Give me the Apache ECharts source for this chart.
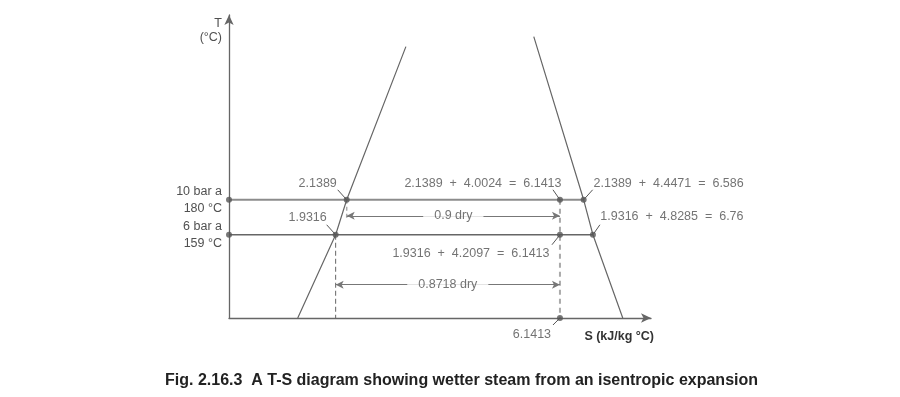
<!DOCTYPE html>
<html>
<head>
<meta charset="utf-8">
<script src="https://cdn.jsdelivr.net/npm/echarts@6/dist/echarts.min.js"></script>
<style>
html, body { margin: 0; background: #fff; }
#main { width: 900px; height: 397px; }
</style>
</head>
<body>
<div id="main"></div>
<script>
// axis extents (schematic T-S plot)
const sMin = -0.07, sMax = 7.85
const tMin = 109, tMax = 291

// saturation states: index 0 = 6 bar a, index 1 = 10 bar a
const pressures = ['6 bar a', '10 bar a']
const satTemps = [159, 180]
const sf = [1.9316, 2.1389]
const sfgFull = [4.8285, 4.4471]
const sg = [6.76, 6.586]
const sfgWet = [4.2097, 4.0024]
const sWet = 6.1413
const dryness = ['0.8718', '0.9']

// saturation dome
const domeLeftS = [1.22, 1.9316, 2.1389, 3.25]
const domeLeftT = [109, 159, 180, 272]
const domeRightS = [5.65, 6.586, 6.76, 7.32]
const domeRightT = [278, 180, 159, 109]

// temperature of the dryness arrows
const arrowT = [129, 170.4]

const textColor = '#505050'
const font = 'Liberation Sans, Arial, sans-serif'

function zip(a, b) {
    return a.map(function (v, i) { return [v, b[i]] })
}
function fmt(i) {
    return sf[i] + '  +  '
}

// labelled points
const pts = [
    { value: [sf[1], satTemps[1]], text: String(sf[1]) },
    { value: [sf[0], satTemps[0]], text: String(sf[0]) },
    { value: [sWet, satTemps[1]], text: fmt(1) + sfgWet[1] + '  =  ' + sWet },
    { value: [sg[1], satTemps[1]], text: fmt(1) + sfgFull[1] + '  =  ' + sg[1] },
    { value: [sg[0], satTemps[0]], text: fmt(0) + sfgFull[0] + '  =  ' + sg[0] },
    { value: [sWet, satTemps[0]], text: fmt(0) + sfgWet[0] + '  =  ' + sWet },
    { value: [sWet, tMin], text: String(sWet) }
]
// label offset and leader start, px from the point
const labelOffsets = [[-29, -16], [-28, -17], [-77, -16], [85, -16], [79, -18], [-89, 19], [-28, 17]]
const leaderStart = [[-9, -10], [-9, -10], [-7, -10], [9, -10], [7, -10], [-8, 10], [-7, 7]]

var option = {
    animation: false,
    title: {
        text: 'Fig. 2.16.3  A T-S diagram showing wetter steam from an isentropic expansion',
        left: 165,
        top: 373,
        padding: 0,
        textStyle: { fontFamily: font, fontSize: 16, fontWeight: 'bold', color: '#222' }
    },
    grid: { left: 229, right: 249, top: 15, bottom: 79 },
    xAxis: {
        type: 'value',
        min: sMin,
        max: sMax,
        name: 'S (kJ/kg °C)',
        nameLocation: 'end',
        nameGap: 3,
        nameTextStyle: {
            align: 'right', verticalAlign: 'top', padding: [12, 0, 0, 0],
            fontFamily: font, fontSize: 12.5, fontWeight: 'bold', color: '#333'
        },
        axisLine: {
            onZero: false,
            symbol: ['none', 'arrow'],
            symbolSize: [7, 10],
            lineStyle: { color: '#666', width: 1.3 }
        },
        axisTick: { show: false },
        axisLabel: { show: false },
        splitLine: { show: false }
    },
    yAxis: {
        type: 'value',
        min: tMin,
        max: tMax,
        name: 'T\n(°C)',
        nameLocation: 'end',
        nameGap: -1.5,
        nameTextStyle: {
            align: 'right', verticalAlign: 'top', padding: [0, 7, 0, 0], lineHeight: 14,
            fontFamily: font, fontSize: 12.5, color: textColor
        },
        axisLine: {
            onZero: false,
            symbol: ['none', 'arrow'],
            symbolSize: [7, 10],
            lineStyle: { color: '#666', width: 1.3 }
        },
        axisTick: { show: false },
        splitLine: { show: false },
        axisLabel: {
            customValues: satTemps,
            margin: 7,
            fontFamily: font,
            fontSize: 12.5,
            lineHeight: 17,
            color: textColor,
            formatter: function (v) {
                var i = satTemps.indexOf(v)
                return pressures[i] + '\n' + v + ' °C'
            }
        }
    },
    series: [
        {
            type: 'line', data: zip(domeLeftS, domeLeftT), showSymbol: false, z: 2,
            lineStyle: { color: '#666', width: 1.2 }
        },
        {
            type: 'line', data: zip(domeRightS, domeRightT), showSymbol: false, z: 2,
            lineStyle: { color: '#666', width: 1.2 }
        },
        // pressure lines
        {
            type: 'line', data: [[sMin, satTemps[1]], [sg[1], satTemps[1]]], showSymbol: false, z: 2,
            lineStyle: { color: '#8c8c8c', width: 2 }
        },
        {
            type: 'line', data: [[sMin, satTemps[0]], [sg[0], satTemps[0]]], showSymbol: false, z: 2,
            lineStyle: { color: '#666', width: 1.5 }
        },
        // dashed verticals
        {
            type: 'line', data: [[sf[1], satTemps[1]], [sf[1], arrowT[1] - 2]], showSymbol: false, z: 1,
            lineStyle: { color: '#aaa', width: 1.5, type: [4, 3] }
        },
        {
            type: 'line', data: [[sf[0], satTemps[0]], [sf[0], tMin]], showSymbol: false, z: 1,
            lineStyle: { color: '#666', width: 1, type: [5, 3] }
        },
        {
            type: 'line', data: [[sWet, satTemps[1]], [sWet, tMin]], showSymbol: false, z: 1,
            lineStyle: { color: '#aaa', width: 2, type: [5, 4] }
        },
        // dryness arrows
        {
            type: 'line', data: [], z: 3,
            markLine: {
                silent: true,
                symbol: ['arrow', 'arrow'],
                symbolSize: [6, 8],
                label: { show: false },
                lineStyle: { color: '#777', width: 1, type: 'solid' },
                data: [0, 1].map(function (i) {
                    return [{ coord: [sf[i], arrowT[i]] }, { coord: [sWet, arrowT[i]] }]
                })
            }
        },
        {
            type: 'scatter', symbolSize: 0, z: 6,
            data: [0, 1].map(function (i) {
                return { value: [(sf[i] + sWet) / 2, arrowT[i]], name: dryness[i] + ' dry' }
            }),
            label: {
                show: true, position: 'inside', formatter: '{b}',
                backgroundColor: '#fff', padding: [1, 11],
                fontFamily: font, fontSize: 12.5, color: textColor
            }
        },
        // points on the y axis
        {
            type: 'scatter', symbolSize: 6, clip: false, z: 5,
            itemStyle: { color: '#555' },
            data: satTemps.map(function (t) { return [sMin, t] })
        },
        // labelled state points
        {
            type: 'scatter', symbolSize: 6, clip: false, z: 5,
            itemStyle: { color: '#555' },
            data: pts.map(function (p) { return { value: p.value, name: p.text } }),
            label: {
                show: true, position: 'inside', formatter: '{b}',
                fontFamily: font, fontSize: 12.5, color: textColor
            },
            labelLayout: function (p) {
                var o = labelOffsets[p.dataIndex]
                return { dx: o[0], dy: o[1] }
            }
        }
    ]
}

var myChart = echarts.init(document.getElementById('main'))
myChart.setOption(option)

// leader lines from each label to its point
var leaders = pts.map(function (p, i) {
    var c = myChart.convertToPixel({ gridIndex: 0 }, p.value)
    var a = myChart.convertFromPixel({ gridIndex: 0 }, [c[0] + leaderStart[i][0], c[1] + leaderStart[i][1]])
    return {
        type: 'line', data: [a, p.value], showSymbol: false, clip: false, silent: true, z: 4,
        lineStyle: { color: '#555', width: 1 }
    }
})
myChart.setOption({ series: option.series.concat(leaders) })
</script>
</body>
</html>
